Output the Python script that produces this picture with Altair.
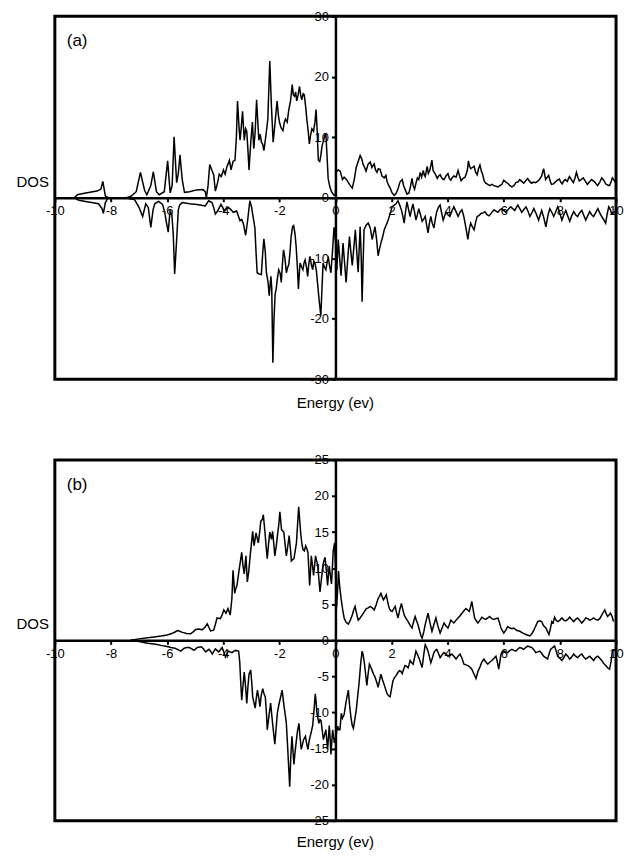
import altair as alt
import pandas as pd

# ---------------- data ----------------
x_ticks = [-10, -8, -6, -4, -2, 0, 2, 4, 6, 8, 10]
a_y_ticks = [-30, -20, -10, 0, 10, 20, 30]
b_y_ticks = [-25, -20, -15, -10, -5, 0, 5, 10, 15, 20, 25]

# panel (a): spin-up (positive) DOS
a_up = [(-9.3, 0), (-9.2, 0.5), (-8.9, 0.8), (-8.5, 1.1), (-8.36, 1.4), (-8.29, 2.7), (-8.2, 0.3), (-8.1, 0),
        (-7.45, 0), (-7.3, 0.2), (-7.1, 1.0), (-6.95, 4.2), (-6.8, 1.2), (-6.72, 0.5), (-6.58, 2.0), (-6.49, 4.3),
        (-6.38, 1.0), (-6.28, 0.5), (-6.1, 1.0), (-5.98, 6.1), (-5.89, 0.8), (-5.82, 2.0), (-5.75, 10.1), (-5.66, 2.5),
        (-5.6, 4.0), (-5.54, 7.1), (-5.46, 3.0), (-5.38, 0.9), (-5.2, 1.0), (-4.95, 1.3), (-4.72, 1.35), (-4.64, 1.0),
        (-4.6, 0), (-4.54, 2.0), (-4.48, 5.5), (-4.4, 4.5), (-4.34, 3.8), (-4.28, 1.1), (-4.2, 2.5), (-4.14, 3.9),
        (-4.07, 3.5), (-3.99, 4.6), (-3.93, 3.9), (-3.87, 5.1), (-3.78, 6.2), (-3.72, 4.6), (-3.65, 6.0), (-3.58, 6.2),
        (-3.53, 10), (-3.49, 16.0), (-3.44, 12), (-3.4, 9.5), (-3.35, 12), (-3.31, 14.3), (-3.25, 9.5), (-3.2, 11.4),
        (-3.16, 11.0), (-3.12, 8), (-3.08, 4.6), (-3.02, 9), (-2.96, 12.5), (-2.91, 8.1), (-2.86, 11), (-2.81, 16.2),
        (-2.76, 12), (-2.73, 9.5), (-2.68, 10.5), (-2.64, 9.2), (-2.59, 8.8), (-2.55, 7.8), (-2.5, 9.5), (-2.46, 11.0),
        (-2.41, 13), (-2.34, 22.6), (-2.28, 15), (-2.22, 9.2), (-2.15, 12.5), (-2.08, 16.0), (-2.03, 13.5), (-1.99, 12.4),
        (-1.93, 11.5), (-1.87, 11.1), (-1.82, 12.5), (-1.78, 13.0), (-1.72, 12.5), (-1.66, 14.6), (-1.6, 16), (-1.54, 18.7),
        (-1.5, 17), (-1.46, 16.8), (-1.42, 17.5), (-1.38, 16.0), (-1.33, 17), (-1.28, 18.4), (-1.24, 17), (-1.2, 16.2),
        (-1.15, 17.2), (-1.11, 17.0), (-1.06, 15), (-1.02, 13.0), (-0.97, 11), (-0.93, 8.9), (-0.88, 10.5), (-0.84, 11.4),
        (-0.78, 11.0), (-0.73, 12.5), (-0.69, 14.6), (-0.65, 11), (-0.61, 6.2), (-0.56, 6.0), (-0.52, 7.0), (-0.48, 8.5),
        (-0.44, 9.2), (-0.38, 10.3), (-0.34, 10.5), (-0.3, 7), (-0.26, 3.2), (-0.2, 1.8), (-0.14, 1.0), (-0.05, 0.4),
        (0.0, 0.5), (0.03, 4.3), (0.1, 4.6), (0.17, 4.4), (0.25, 3.0), (0.31, 3.4), (0.4, 3.0), (0.46, 2.5), (0.53, 2.0),
        (0.6, 1.6), (0.67, 3.0), (0.74, 5.0), (0.81, 6.0), (0.88, 7.0), (0.94, 6.4), (0.98, 5.6), (1.04, 5.0), (1.09, 4.4),
        (1.16, 5.5), (1.24, 5.9), (1.3, 5.0), (1.38, 5.6), (1.43, 4.6), (1.48, 4.2), (1.53, 4.8), (1.59, 4.7), (1.66, 3.6),
        (1.74, 3.3), (1.8, 3.7), (1.84, 2.7), (1.9, 2.0), (1.95, 1.6), (2.02, 0.8), (2.09, 0.4), (2.16, 0.7), (2.23, 1.5),
        (2.3, 2.6), (2.38, 3.0), (2.43, 2.0), (2.49, 1.3), (2.55, 0.6), (2.62, 0.8), (2.68, 2.0), (2.73, 3.2), (2.77, 2.0),
        (2.82, 1.4), (2.87, 2.4), (2.92, 3.3), (2.97, 3.0), (3.02, 4.2), (3.07, 3.4), (3.13, 4.5), (3.17, 3.7), (3.2, 3.5),
        (3.27, 5.2), (3.31, 4.0), (3.36, 4.5), (3.44, 6.2), (3.48, 4.5), (3.55, 4.0), (3.63, 3.2), (3.68, 3.6), (3.73, 3.8),
        (3.8, 3.2), (3.87, 3.0), (3.94, 3.6), (4.01, 4.0), (4.06, 3.2), (4.11, 2.9), (4.16, 3.3), (4.22, 3.6), (4.3, 3.4),
        (4.37, 4.5), (4.43, 3.5), (4.48, 2.8), (4.55, 3.2), (4.62, 3.4), (4.7, 4.5), (4.74, 6.1), (4.78, 5.2), (4.82, 4.8),
        (4.88, 5.0), (4.94, 5.2), (5.0, 4.2), (5.05, 3.8), (5.1, 4.8), (5.15, 5.4), (5.2, 4.4), (5.25, 3.8), (5.3, 2.8),
        (5.36, 2.4), (5.43, 2.2), (5.5, 2.0), (5.58, 2.2), (5.65, 2.0), (5.72, 1.9), (5.79, 1.8), (5.86, 2.0), (5.93, 2.2),
        (6.0, 2.9), (6.07, 2.6), (6.14, 2.4), (6.22, 2.0), (6.29, 1.8), (6.36, 2.0), (6.43, 2.5), (6.5, 2.6), (6.57, 3.0),
        (6.64, 2.7), (6.71, 2.4), (6.78, 2.8), (6.85, 3.2), (6.92, 2.7), (6.99, 2.4), (7.06, 2.6), (7.13, 2.5), (7.2, 2.7),
        (7.27, 3.0), (7.35, 3.6), (7.42, 4.8), (7.46, 3.8), (7.49, 3.0), (7.55, 3.4), (7.6, 3.7), (7.65, 2.8), (7.7, 2.2),
        (7.77, 2.3), (7.84, 2.6), (7.91, 2.9), (7.98, 3.1), (8.03, 2.6), (8.08, 2.3), (8.14, 2.8), (8.19, 3.0), (8.26, 2.7),
        (8.34, 3.5), (8.41, 3.0), (8.48, 2.5), (8.54, 3.3), (8.59, 4.2), (8.64, 3.4), (8.69, 2.8), (8.76, 3.0), (8.83, 3.3),
        (8.9, 2.8), (8.98, 2.2), (9.05, 2.6), (9.13, 3.0), (9.19, 2.8), (9.24, 2.6), (9.29, 2.3), (9.34, 2.0), (9.42, 2.6),
        (9.49, 3.3), (9.56, 2.9), (9.63, 2.3), (9.7, 2.1), (9.77, 2.0), (9.82, 2.6), (9.87, 3.3), (9.93, 2.9), (10.0, 2.4)]

# panel (a): spin-down (negative) DOS
a_down = [(-9.3, 0), (-9.15, -0.4), (-8.8, -0.7), (-8.44, -1.0), (-8.32, -1.8), (-8.27, -2.6), (-8.2, -0.8), (-8.1, 0),
          (-7.45, 0), (-7.3, -0.2), (-7.16, -0.3), (-7.01, -1.5), (-6.87, -3.1), (-6.76, -1.0), (-6.67, -1.6), (-6.58, -4.9),
          (-6.5, -2.0), (-6.44, -1.0), (-6.3, -0.6), (-6.16, -1.1), (-6.08, -2.5), (-6.02, -4.2), (-5.96, -5.7), (-5.92, -3.5),
          (-5.89, -2.2), (-5.83, -2.8), (-5.78, -6), (-5.73, -12.6), (-5.66, -7), (-5.6, -2.0), (-5.55, -1.2), (-5.46, -0.8),
          (-5.2, -1.0), (-4.93, -1.1), (-4.64, -1.35), (-4.52, -0.5), (-4.4, -0.8), (-4.34, -1.6), (-4.28, -2.7), (-4.2, -2.2),
          (-4.08, -1.1), (-4.02, -1.6), (-3.96, -2.2), (-3.88, -1.8), (-3.81, -1.6), (-3.72, -2.0), (-3.64, -2.4), (-3.52, -2.2),
          (-3.46, -3.0), (-3.4, -3.8), (-3.34, -3.6), (-3.28, -4.3), (-3.2, -6.2), (-3.13, -3.8), (-3.05, -0.5), (-2.99, -1.5),
          (-2.95, -2.7), (-2.87, -5.0), (-2.83, -9), (-2.79, -12.4), (-2.72, -12.6), (-2.64, -12.7), (-2.59, -9), (-2.55, -6.8),
          (-2.5, -9), (-2.46, -12.4), (-2.4, -14), (-2.36, -16.2), (-2.3, -13), (-2.27, -15), (-2.23, -27.3), (-2.19, -20),
          (-2.15, -16), (-2.11, -15), (-2.06, -13), (-2.02, -11.9), (-1.97, -12.5), (-1.93, -14), (-1.89, -11), (-1.85, -8.6),
          (-1.8, -10), (-1.75, -12.4), (-1.7, -11.5), (-1.66, -11.0), (-1.62, -9), (-1.58, -6.5), (-1.53, -4.8), (-1.49, -4.6),
          (-1.44, -6), (-1.4, -8.1), (-1.35, -12), (-1.32, -15.1), (-1.28, -12), (-1.26, -10.8), (-1.2, -11.5), (-1.16, -11.9),
          (-1.12, -10.8), (-1.08, -10.3), (-1.03, -11.5), (-0.99, -13.0), (-0.95, -11), (-0.91, -9.7), (-0.86, -11), (-0.81, -11.9),
          (-0.77, -10.5), (-0.73, -10.8), (-0.68, -12), (-0.64, -14.0), (-0.58, -17), (-0.52, -19.5), (-0.48, -15), (-0.44, -10.8),
          (-0.39, -11.5), (-0.34, -11.9), (-0.29, -10.5), (-0.25, -10.0), (-0.2, -11.5), (-0.16, -12.4), (-0.11, -9.2), (-0.05, -4.9),
          (0.01, -7.5), (0.05, -12), (0.1, -6.9), (0.15, -10), (0.2, -12.9), (0.27, -7.5), (0.33, -11), (0.38, -14.0), (0.44, -10),
          (0.5, -6.4), (0.55, -9), (0.6, -11.2), (0.66, -8), (0.71, -5.3), (0.76, -9), (0.81, -12.3), (0.85, -8), (0.88, -4.8),
          (0.92, -10), (0.95, -17.2), (0.99, -10), (1.02, -5.3), (1.1, -4.5), (1.17, -4.2), (1.24, -5.0), (1.31, -6.9), (1.36, -5.8),
          (1.41, -4.8), (1.47, -7), (1.52, -9.6), (1.57, -8.5), (1.62, -7.5), (1.68, -6.5), (1.74, -5.3), (1.81, -4.5), (1.88, -3.7),
          (1.95, -2.6), (2.02, -1.5), (2.09, -1.2), (2.16, -1.0), (2.23, -0.5), (2.29, -1.2), (2.35, -2.0), (2.4, -3.0), (2.45, -4.2),
          (2.5, -2.2), (2.55, -0.7), (2.6, -1.8), (2.66, -3.1), (2.71, -2.0), (2.76, -1.0), (2.82, -2.4), (2.87, -3.7), (2.92, -2.8),
          (2.97, -1.8), (3.03, -2.8), (3.09, -3.9), (3.15, -3.5), (3.2, -3.1), (3.25, -4.5), (3.3, -5.8), (3.35, -4.2), (3.4, -3.1),
          (3.45, -4.2), (3.51, -5.0), (3.56, -3.5), (3.61, -2.3), (3.67, -1.6), (3.73, -1.2), (3.78, -2.4), (3.84, -3.7), (3.89, -3.0),
          (3.94, -2.4), (4.01, -2.8), (4.08, -3.1), (4.15, -2.2), (4.22, -1.5), (4.3, -2.3), (4.37, -3.1), (4.44, -2.4), (4.51, -2.0),
          (4.57, -3.0), (4.62, -4.2), (4.67, -5.5), (4.72, -6.9), (4.77, -5.2), (4.82, -4.2), (4.88, -4.8), (4.94, -5.3), (5.0, -4.0),
          (5.05, -3.1), (5.12, -2.9), (5.19, -2.6), (5.26, -2.5), (5.33, -2.3), (5.4, -2.8), (5.48, -3.0), (5.56, -2.5), (5.65, -2.0),
          (5.72, -2.2), (5.79, -2.4), (5.86, -2.0), (5.93, -1.8), (6.0, -2.1), (6.07, -2.4), (6.15, -2.0), (6.24, -1.5), (6.32, -1.8),
          (6.39, -2.1), (6.45, -1.6), (6.5, -1.2), (6.57, -1.8), (6.64, -2.4), (6.72, -1.9), (6.79, -1.5), (6.86, -2.2), (6.93, -3.1),
          (7.0, -2.5), (7.07, -1.8), (7.15, -2.6), (7.24, -3.7), (7.3, -2.8), (7.35, -2.1), (7.42, -3.2), (7.5, -4.8), (7.57, -3.0),
          (7.64, -1.8), (7.71, -2.4), (7.78, -3.1), (7.85, -2.3), (7.92, -1.5), (8.0, -2.6), (8.07, -3.7), (8.14, -2.8), (8.21, -2.1),
          (8.28, -3.0), (8.35, -3.9), (8.42, -3.0), (8.49, -2.3), (8.56, -2.8), (8.63, -3.1), (8.7, -2.5), (8.78, -2.1), (8.85, -2.9),
          (8.92, -3.7), (8.99, -3.0), (9.06, -2.3), (9.13, -2.8), (9.2, -3.1), (9.27, -2.5), (9.35, -1.8), (9.42, -2.5), (9.49, -3.1),
          (9.56, -3.6), (9.63, -4.2), (9.68, -2.8), (9.74, -1.5), (9.8, -2.0), (9.84, -2.6), (9.92, -2.4), (10.0, -2.3)]

# panel (b): spin-up (positive) DOS
b_up = [(-7.3, 0), (-7.0, 0.2), (-6.69, 0.35), (-6.4, 0.5), (-6.22, 0.6), (-6.0, 0.75), (-5.86, 0.9), (-5.72, 1.15),
        (-5.63, 1.35), (-5.55, 1.25), (-5.45, 1.1), (-5.3, 0.95), (-5.16, 0.9), (-5.06, 1.2), (-4.98, 1.5), (-4.86, 1.55),
        (-4.75, 1.45), (-4.65, 1.8), (-4.57, 2.3), (-4.5, 1.7), (-4.45, 1.3), (-4.34, 1.4), (-4.28, 2.2), (-4.22, 3.1),
        (-4.1, 3.0), (-4.03, 3.6), (-3.98, 4.2), (-3.9, 3.75), (-3.83, 4.4), (-3.75, 3.5), (-3.69, 5.8), (-3.65, 9.7),
        (-3.59, 6.5), (-3.55, 7.2), (-3.51, 7.6), (-3.46, 9), (-3.42, 10.1), (-3.34, 12.2), (-3.3, 10.5), (-3.25, 9.2),
        (-3.19, 11.7), (-3.14, 8.1), (-3.09, 9.5), (-3.04, 11.7), (-2.99, 13.5), (-2.95, 15.1), (-2.9, 13.1), (-2.83, 14.9),
        (-2.75, 13.5), (-2.7, 15), (-2.66, 16.5), (-2.6, 16.8), (-2.57, 17.4), (-2.51, 14.9), (-2.47, 13), (-2.43, 11.3),
        (-2.38, 13.5), (-2.34, 15.0), (-2.28, 14), (-2.24, 15.1), (-2.2, 13.5), (-2.16, 11.7), (-2.11, 13), (-2.07, 14.4),
        (-2.02, 16), (-1.98, 17.8), (-1.92, 15.3), (-1.84, 15), (-1.8, 13.5), (-1.75, 11.7), (-1.7, 13), (-1.65, 14.5),
        (-1.6, 12.5), (-1.57, 11.0), (-1.52, 11.2), (-1.48, 11.3), (-1.43, 12.5), (-1.39, 13.5), (-1.35, 16), (-1.31, 18.5),
        (-1.27, 16.5), (-1.24, 14.9), (-1.2, 13.5), (-1.16, 12.6), (-1.11, 12.4), (-1.06, 13.1), (-1.02, 12.7), (-0.98, 12.2),
        (-0.95, 10), (-0.92, 7.6), (-0.89, 9.5), (-0.86, 11.7), (-0.82, 10.5), (-0.78, 9.0), (-0.74, 10.5), (-0.71, 11.7),
        (-0.67, 11), (-0.63, 10.3), (-0.59, 8.5), (-0.55, 6.7), (-0.5, 8.5), (-0.45, 10.3), (-0.41, 11), (-0.37, 11.5),
        (-0.32, 9.5), (-0.28, 7.6), (-0.25, 9), (-0.22, 10.3), (-0.18, 9), (-0.14, 7.8), (-0.11, 10), (-0.08, 12.4),
        (-0.03, 13.5), (0.0, 10), (0.04, 4.6), (0.08, 7), (0.11, 9.6), (0.15, 7.5), (0.2, 5.8), (0.26, 4.2), (0.31, 3.1),
        (0.38, 2.5), (0.46, 2.25), (0.53, 2.8), (0.6, 3.5), (0.65, 4.2), (0.7, 4.7), (0.75, 3.8), (0.81, 2.8), (0.88, 3.1),
        (0.95, 3.5), (1.02, 3.9), (1.1, 4.4), (1.17, 4.5), (1.24, 4.7), (1.31, 4.5), (1.38, 4.2), (1.45, 4.9), (1.52, 5.8),
        (1.57, 6.1), (1.62, 6.5), (1.67, 6.0), (1.71, 5.6), (1.76, 5.9), (1.81, 6.3), (1.87, 5.2), (1.92, 4.4), (1.97, 4.1),
        (2.02, 4.0), (2.08, 4.4), (2.13, 4.7), (2.18, 3.8), (2.23, 3.1), (2.29, 4.2), (2.35, 5.1), (2.4, 4.3), (2.45, 3.5),
        (2.52, 3.0), (2.59, 2.6), (2.66, 2.1), (2.73, 1.7), (2.78, 2.5), (2.84, 3.3), (2.89, 2.7), (2.94, 2.2), (3.0, 1.3),
        (3.05, 0.6), (3.09, 0.3), (3.15, 1.2), (3.2, 2.2), (3.25, 3.0), (3.3, 3.75), (3.37, 2.4), (3.44, 1.25), (3.51, 2.2),
        (3.58, 3.1), (3.65, 2.0), (3.73, 1.0), (3.8, 1.7), (3.87, 2.4), (3.94, 2.0), (4.01, 1.7), (4.06, 2.2), (4.11, 2.8),
        (4.16, 2.6), (4.22, 2.4), (4.3, 2.8), (4.37, 3.1), (4.44, 3.4), (4.51, 3.75), (4.58, 4.1), (4.65, 4.4), (4.71, 4.2),
        (4.77, 4.0), (4.82, 4.7), (4.86, 5.4), (4.91, 4.2), (4.96, 3.1), (5.02, 2.7), (5.08, 2.4), (5.15, 2.8), (5.22, 3.2),
        (5.29, 3.0), (5.36, 2.9), (5.43, 3.1), (5.5, 3.3), (5.57, 3.0), (5.65, 2.9), (5.72, 3.0), (5.79, 3.1), (5.85, 2.4),
        (5.9, 1.7), (6.0, 1.0), (6.07, 1.4), (6.14, 1.9), (6.22, 1.7), (6.29, 1.6), (6.36, 1.7), (6.45, 1.4), (6.57, 1.25),
        (6.68, 1.0), (6.79, 0.8), (6.86, 0.7), (6.93, 0.6), (7.0, 0.9), (7.07, 1.4), (7.14, 2.0), (7.21, 2.6), (7.28, 2.7),
        (7.35, 2.6), (7.42, 2.0), (7.5, 1.7), (7.56, 1.2), (7.61, 0.8), (7.66, 1.6), (7.71, 2.6), (7.76, 2.4), (7.81, 3.2),
        (7.86, 2.8), (7.92, 2.6), (8.0, 2.8), (8.07, 3.1), (8.14, 2.8), (8.21, 2.7), (8.28, 2.9), (8.35, 3.2), (8.42, 2.9),
        (8.49, 2.6), (8.56, 2.9), (8.63, 3.1), (8.7, 2.8), (8.78, 2.4), (8.85, 2.7), (8.92, 3.1), (8.99, 3.0), (9.06, 2.8),
        (9.13, 2.9), (9.2, 3.1), (9.27, 2.9), (9.35, 2.8), (9.42, 3.0), (9.49, 3.5), (9.55, 3.9), (9.6, 4.2), (9.65, 3.7),
        (9.7, 3.3), (9.75, 3.5), (9.8, 3.75), (9.86, 3.3), (9.91, 2.6)]

# panel (b): spin-down (negative) DOS
b_down = [(-7.3, 0), (-7.0, -0.15), (-6.69, -0.4), (-6.4, -0.55), (-6.22, -0.7), (-6.0, -0.85), (-5.86, -1.0), (-5.72, -1.1),
          (-5.63, -1.25), (-5.51, -1.5), (-5.39, -1.1), (-5.3, -1.0), (-5.21, -1.0), (-5.12, -1.2), (-5.04, -1.4), (-4.92, -1.0),
          (-4.78, -0.9), (-4.7, -1.2), (-4.63, -1.6), (-4.51, -1.25), (-4.45, -1.5), (-4.39, -1.9), (-4.28, -1.2), (-4.16, -1.6),
          (-4.1, -1.3), (-4.04, -1.0), (-3.98, -1.6), (-3.92, -2.3), (-3.86, -1.8), (-3.81, -1.5), (-3.69, -1.7), (-3.57, -1.4),
          (-3.45, -1.5), (-3.41, -3), (-3.39, -4.7), (-3.34, -8.3), (-3.3, -6.5), (-3.25, -4.4), (-3.2, -6.5), (-3.16, -8.75),
          (-3.12, -6.5), (-3.08, -4.7), (-3.02, -4.1), (-2.98, -6), (-2.95, -7.8), (-2.86, -9.4), (-2.82, -8), (-2.78, -6.9),
          (-2.73, -8), (-2.69, -9.2), (-2.64, -7.5), (-2.59, -6.7), (-2.54, -7.5), (-2.5, -7.8), (-2.46, -10), (-2.43, -12.4),
          (-2.37, -10.5), (-2.31, -8.7), (-2.24, -11.5), (-2.16, -14.4), (-2.11, -12), (-2.07, -10.1), (-2.02, -9), (-1.98, -8.3),
          (-1.9, -6.9), (-1.83, -9.2), (-1.79, -10.3), (-1.75, -11.5), (-1.7, -15), (-1.63, -20.3), (-1.59, -16), (-1.55, -13.3),
          (-1.52, -15), (-1.48, -17.2), (-1.44, -15.5), (-1.39, -13.8), (-1.35, -12.5), (-1.3, -11.5), (-1.26, -13.5), (-1.22, -15.1),
          (-1.18, -14.5), (-1.14, -13.8), (-1.07, -13.3), (-1.03, -14.2), (-0.98, -15.1), (-0.94, -14), (-0.9, -13.3), (-0.85, -12.5),
          (-0.81, -11.8), (-0.76, -9.5), (-0.72, -7.4), (-0.69, -8.5), (-0.66, -10.1), (-0.59, -11.5), (-0.55, -11), (-0.51, -11.2),
          (-0.47, -12.5), (-0.43, -13.75), (-0.38, -13), (-0.34, -12.4), (-0.31, -13.8), (-0.28, -15.1), (-0.25, -13.5), (-0.22, -11.8),
          (-0.19, -13.5), (-0.16, -15.8), (-0.13, -14), (-0.1, -12.4), (-0.07, -13.3), (-0.04, -14.2), (0.02, -13.2), (0.08, -11.9),
          (0.12, -12.4), (0.16, -12.4), (0.21, -10.1), (0.25, -10.8), (0.31, -10.3), (0.38, -8.5), (0.46, -6.9), (0.5, -8.8),
          (0.55, -10.6), (0.6, -11.8), (0.64, -12.2), (0.69, -11), (0.74, -9.7), (0.8, -7.5), (0.85, -5.6), (0.9, -3.2), (0.95, -1.5),
          (0.98, -1.9), (1.02, -2.8), (1.07, -4.5), (1.12, -6.25), (1.16, -4.8), (1.21, -3.3), (1.26, -3.7), (1.31, -4.2), (1.36, -4.7),
          (1.41, -5.1), (1.47, -5.8), (1.52, -6.5), (1.57, -5.6), (1.62, -4.7), (1.68, -5.5), (1.74, -6.2), (1.79, -6.8), (1.84, -7.4),
          (1.9, -7.7), (1.95, -7.8), (2.0, -6.7), (2.05, -5.6), (2.1, -5.2), (2.16, -4.9), (2.22, -4.5), (2.28, -4.2), (2.33, -4.3),
          (2.38, -4.6), (2.43, -4.0), (2.48, -3.5), (2.54, -3.6), (2.59, -3.8), (2.63, -3.3), (2.66, -2.8), (2.72, -3.1), (2.77, -3.3),
          (2.82, -2.4), (2.87, -1.5), (2.93, -2.0), (2.99, -2.6), (3.04, -3.2), (3.09, -3.75), (3.14, -2.2), (3.2, -0.6), (3.25, -1.0),
          (3.3, -1.5), (3.35, -2.3), (3.4, -3.1), (3.45, -2.5), (3.51, -1.7), (3.56, -1.4), (3.61, -1.25), (3.67, -1.8), (3.73, -2.4),
          (3.8, -2.0), (3.87, -1.7), (3.94, -1.9), (4.01, -2.2), (4.08, -2.0), (4.15, -1.9), (4.22, -2.2), (4.3, -2.6), (4.37, -2.2),
          (4.44, -1.9), (4.51, -2.5), (4.58, -3.3), (4.65, -3.4), (4.72, -3.5), (4.79, -3.7), (4.86, -4.0), (4.93, -4.6), (5.01, -5.3),
          (5.08, -4.3), (5.15, -3.7), (5.22, -3.0), (5.29, -2.6), (5.36, -3.0), (5.43, -3.3), (5.5, -3.0), (5.58, -2.8), (5.65, -2.5),
          (5.72, -2.2), (5.77, -3), (5.82, -4.0), (5.86, -3), (5.9, -1.9), (5.95, -1.6), (6.0, -1.5), (6.07, -1.6), (6.14, -1.7),
          (6.22, -1.4), (6.29, -1.25), (6.36, -1.4), (6.43, -1.5), (6.5, -1.2), (6.57, -1.0), (6.64, -1.1), (6.71, -1.25), (6.78, -1.0),
          (6.85, -0.8), (6.92, -0.9), (7.0, -1.0), (7.07, -1.3), (7.14, -1.7), (7.21, -1.6), (7.28, -1.5), (7.35, -1.8), (7.42, -2.2),
          (7.49, -2.4), (7.56, -2.6), (7.62, -1.8), (7.67, -1.25), (7.74, -1.0), (7.81, -0.8), (7.86, -1.4), (7.92, -2.2), (8.0, -2.5),
          (8.07, -2.8), (8.14, -2.4), (8.21, -1.9), (8.28, -2.2), (8.35, -2.6), (8.42, -2.3), (8.49, -1.9), (8.56, -2.2), (8.63, -2.4),
          (8.7, -2.1), (8.78, -1.9), (8.85, -2.3), (8.92, -2.6), (8.99, -2.4), (9.06, -2.2), (9.13, -2.5), (9.2, -2.8), (9.27, -2.4),
          (9.35, -2.2), (9.42, -2.5), (9.49, -2.8), (9.56, -3.2), (9.63, -3.5), (9.7, -3.8), (9.77, -4.0), (9.82, -3.0), (9.87, -1.5),
          (9.93, -1.3), (10.0, -1.5)]

panel_labels = ["(a)", "(b)"]
y_label = "DOS"
x_label = "Energy (ev)"

# ---------------- chart ----------------
W = 563
FONT = "Liberation Sans"


def panel(up, down, yticks, ydom, h, label, title_dy):
    df = pd.DataFrame(
        [{"E": e, "DOS": d, "spin": "up"} for e, d in up]
        + [{"E": e, "DOS": d, "spin": "down"} for e, d in down]
    )
    axis_common = dict(
        grid=False, title=None, domainColor="black", domainWidth=2.5,
        tickColor="black", tickSize=4, tickWidth=2, labelFontSize=13,
        labelColor="black", labelFont=FONT, labelFlush=False,
        labelExpr="'' + datum.value",
    )
    lines = alt.Chart(df).mark_line(color="black", strokeWidth=1.5).encode(
        x=alt.X("E:Q", scale=alt.Scale(domain=[-10, 10], nice=False, zero=False),
                axis=alt.Axis(values=x_ticks, orient="bottom", offset=-h / 2,
                              labelPadding=3, **axis_common)),
        y=alt.Y("DOS:Q", scale=alt.Scale(domain=ydom, nice=False),
                axis=alt.Axis(values=yticks, orient="left", offset=-W / 2,
                              labelPadding=3, **axis_common)),
        detail="spin:N",
        order="E:Q",
    )
    tag = alt.Chart(pd.DataFrame({"t": [label]})).mark_text(
        align="left", baseline="middle", fontSize=17, font=FONT, color="black"
    ).encode(x=alt.value(12), y=alt.value(25), text="t:N")
    dos = alt.Chart(pd.DataFrame({"t": [y_label]})).mark_text(
        align="right", baseline="middle", fontSize=15, font=FONT, color="black"
    ).encode(x=alt.value(-6), y=alt.value(h / 2 - 16), text="t:N")
    energy = alt.Chart(pd.DataFrame({"t": [x_label]})).mark_text(
        align="center", baseline="middle", fontSize=15, font=FONT, color="black"
    ).encode(x=alt.value(W / 2), y=alt.value(h + title_dy), text="t:N")
    return alt.layer(lines, tag, dos, energy).properties(width=W, height=h)


pa = panel(a_up, a_down, a_y_ticks, [-30, 30], 364, panel_labels[0], 24)
pb = panel(b_up, b_down, b_y_ticks, [-25, 25], 362, panel_labels[1], 21)

chart = alt.vconcat(pa, pb, spacing=39).properties(
    padding={"left": 6, "top": -1, "right": 0, "bottom": -3}
).configure_view(stroke="black", strokeWidth=3)

chart.save("out.html", embed_options={"renderer": "svg", "actions": False})
